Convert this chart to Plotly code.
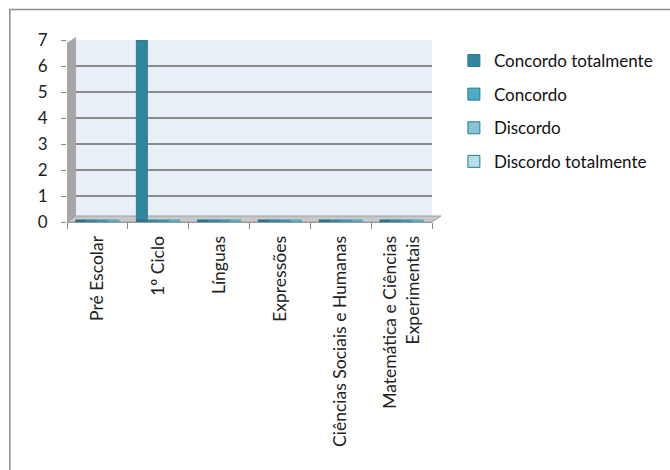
import plotly.graph_objects as go

# dados
categorias = ["Pré Escolar", "1º Ciclo", "Línguas", "Expressões",
              "Ciências Sociais e Humanas", "Matemática e Ciências<br>Experimentais"]
concordo_totalmente = [0, 7, 0, 0, 0, 0]
concordo = [0, 0, 0, 0, 0, 0]
discordo = [0, 0, 0, 0, 0, 0]
discordo_totalmente = [0, 0, 0, 0, 0, 0]

series = [
    ("Concordo totalmente", concordo_totalmente, "#31859C", "#2A7489"),
    ("Concordo", concordo, "#4BACC6", "#2F889F"),
    ("Discordo", discordo, "#86C3D6", "#3E95AC"),
    ("Discordo totalmente", discordo_totalmente, "#B7DDE8", "#5AA8BD"),
]

FONT = "Lato"
W, H = 670, 470
L, R, T, B = 67, 434, 40, 222  # área do gráfico em px


def px_x(p):
    return (p - L) / (R - L)


def px_y(p):
    return (B - p) / (B - T)


fig = go.Figure()
for i, (nome, vals, cor, _) in enumerate(series):
    fig.add_trace(go.Bar(
        x=categorias, y=vals, name=nome, legendgroup=nome,
        marker=dict(color=cor, line=dict(color="#2B7A8F", width=1)),
        offsetgroup=str(i),
    ))
# "discos" na base dos cilindros (efeito 3D do Excel)
for i, (nome, vals, cor, disco) in enumerate(series):
    fig.add_trace(go.Scatter(
        x=categorias, y=[0] * len(vals), mode="markers", showlegend=False,
        offsetgroup=str(i), hoverinfo="skip",
        marker=dict(symbol="line-ew-open", size=8, color=disco,
                    line=dict(color=disco, width=5)),
    ))

shapes = [
    # moldura exterior
    dict(type="rect", xref="paper", yref="paper",
         x0=px_x(9.5), x1=px_x(680), y0=px_y(9.5), y1=px_y(480),
         line=dict(color="#8c8c8c", width=1.5), fillcolor="rgba(0,0,0,0)", layer="below"),
    # parede lateral
    dict(type="path", xref="paper", yref="paper",
         path=f"M{px_x(67)},{px_y(222)} L{px_x(67)},{px_y(43)} L{px_x(76)},{px_y(37)} L{px_x(76)},{px_y(216)} Z",
         fillcolor="#a6a6a6", line=dict(width=0), layer="above"),
    # chão
    dict(type="path", xref="paper", yref="paper",
         path=f"M{px_x(67)},{px_y(222)} L{px_x(434)},{px_y(222)} L{px_x(443)},{px_y(216)} L{px_x(76)},{px_y(216)} Z",
         fillcolor="#c8c8c8", line=dict(color="#a0a0a0", width=1), layer="below"),
]

fig.update_layout(
    width=W, height=H,
    margin=dict(l=L, r=W - R, t=T, b=H - B),
    paper_bgcolor="white", plot_bgcolor="#E9EFF7",
    barmode="group", bargap=0.28, bargroupgap=0.0,
    scattermode="group", scattergap=0.28,
    font=dict(family=FONT, size=16, color="#222"),
    showlegend=True,
    legend=dict(x=px_x(456), y=px_y(43), xanchor="left", yanchor="top",
                font=dict(family=FONT, size=17, color="#111"),
                tracegroupgap=8.5, bgcolor="rgba(0,0,0,0)"),
    shapes=shapes,
    xaxis=dict(type="category", tickangle=-90, showgrid=False,
               ticks="outside", ticklen=6, tickcolor="#888", tickson="boundaries",
               showline=True, linecolor="#999", linewidth=1,
               ticklabelstandoff=6,
               tickfont=dict(family=FONT, size=17.5, color="#222"),
               range=[-0.5, 5.5]),
    yaxis=dict(range=[0, 7], dtick=1, showgrid=True, gridcolor="#8c8c8c", gridwidth=2,
               ticks="outside", ticklen=5, tickcolor="#888", zeroline=False,
               ticklabelstandoff=10,
               tickfont=dict(family=FONT, size=17, color="#222")),
)

# sem a margem por omissão do <body>
fig.write_html("out.html", config={"displayModeBar": False},
               post_script="document.body.style.margin='0';")
